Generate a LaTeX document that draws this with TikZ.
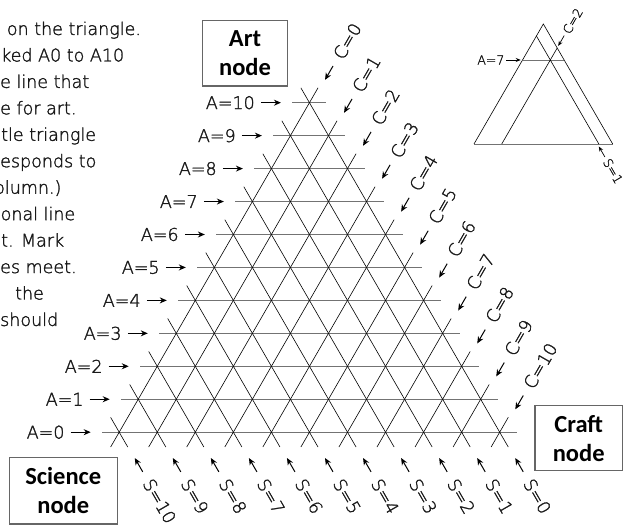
\documentclass[tikz,border=0pt]{standalone}
\usepackage{fontspec}
\IfFontExistsTF{DejaVuSans-ExtraLight.ttf}
  {\setmainfont{DejaVuSans-ExtraLight.ttf}[FakeBold=1.6]}
  {\setmainfont{DejaVu Sans}}
\newfontfamily\boxfont{Carlito}
\usepackage{tikz}
\usetikzlibrary{positioning,arrows.meta,calc}

\tikzset{
  hline/.style={draw=black!55, line width=1.1pt},
  dline/.style={draw=black, line width=0.6pt},
  lab/.style={inner sep=0pt, text=black!90, font=\fontsize{17.5}{21}\selectfont},
  smalllab/.style={inner sep=0pt, text=black!90, font=\fontsize{12.5}{15}\selectfont},
  arr/.style={-{Stealth[length=7pt,width=6pt]}, line width=1pt},
  sarr/.style={-{Stealth[length=5pt,width=4pt]}, line width=0.7pt},
  nodebox/.style={draw=black!60, line width=1.2pt, align=center, inner sep=0pt,
    font=\boxfont\bfseries\fontsize{24.5}{29}\selectfont},
}

\begin{document}
\begin{tikzpicture}[x=1pt,y=1pt]
\useasboundingbox (0,0) rectangle (625,526);

% text cut off at the left edge
\foreach \x/\txt [count=\i from 0] in {6.7/on the triangle., 1/ked A0 to A10, 0/e line that,
  0/e for art., 1/tle triangle, 0/esponds to, -6/olumn.), 0.5/onal line, 1/t. Mark,
  0/es meet., 15/the, 0/should}
  \node[lab, anchor=base west] (p\i) at (\x, 491-26.45*\i) {\txt};

% main grid
\begin{scope}[shift={(119.2,93.8)}, x={(38.05pt,0pt)}, y={(19.025pt,32.95pt)}]
  \foreach \k in {0,...,10}{
    \pgfmathtruncatemacro\m{10-\k}
    \coordinate (a\k l) at (-0.447,\k);
    \coordinate (a\k r) at (\m+0.447,\k);
    \draw[hline] (a\k l) -- (a\k r);
  }
  \foreach \k in {0,...,10}{
    \pgfmathtruncatemacro\m{10-\k}
    \coordinate (c\k b) at (\k,-0.45);
    \coordinate (c\k t) at (\k,\m+0.45);
    \draw[dline] (c\k b) -- (c\k t);
    \coordinate (s\k b) at (\m+0.45,-0.45);
    \coordinate (s\k t) at (-0.45,\m+0.45);
    \draw[dline] (s\k t) -- (s\k b);
  }
\end{scope}

\foreach \k in {0,...,10}{
  \node[lab, anchor=east] (al\k) at ($(a\k l)+(-37.5,0)$) {A=\k};
  \draw[arr, shorten <=6pt, shorten >=11.5pt] (al\k) -- (a\k l);
  \coordinate (cp\k) at ($(c\k t)+(7,8)$);
  \node[lab, rotate=60, anchor=west] (cl\k) at ($(cp\k)+(60:25.5)$) {C=\k};
  \draw[arr, shorten <=9.5pt] (cl\k) -- (cp\k);
  \coordinate (sp\k) at ($(s\k b)+(7,-11)$);
  \node[lab, rotate=-60, anchor=west] (sl\k) at ($(sp\k)+(-60:25.5)$) {S=\k};
  \draw[arr, shorten <=9.5pt] (sl\k) -- (sp\k);
}

% small example triangle
\begin{scope}[shift={(474,382)}, x={(13.87pt,0pt)}, y={(6.935pt,12pt)}]
  \coordinate (tl) at (0,0);
  \coordinate (tr) at (10,0);
  \coordinate (tt) at (0,10);
  \coordinate (t7l) at (0,7);
  \coordinate (t7r) at (3,7);
  \coordinate (tc2b) at (2,0);
  \coordinate (tc2t) at (2,8);
  \coordinate (ts1b) at (9,0);
  \coordinate (ts1t) at (0,9);
  \draw[hline, line width=0.9pt] (tl) -- (tr);
  \draw[hline, line width=0.9pt] (t7l) -- (t7r);
  \draw[dline] (tl) -- (tt) -- (tr);
  \draw[dline] (tc2b) -- (tc2t);
  \draw[dline] (ts1t) -- (ts1b);
\end{scope}

\node[smalllab, anchor=east] (ia) at ($(t7l)+(-18,0)$) {A=7};
\draw[sarr, shorten <=1.5pt, shorten >=1.8pt] (ia) -- (t7l);
\coordinate (ic) at ($(tc2t)+(1,2)$);
\node[smalllab, rotate=60, anchor=west] (icl) at ($(ic)+(60:15)$) {C=2};
\draw[sarr, shorten <=3pt] (icl) -- (ic);
\coordinate (is) at ($(ts1b)+(0,-2.5)$);
\node[smalllab, rotate=-60, anchor=west] (isl) at ($(is)+(-60:15)$) {S=1};
\draw[sarr, shorten <=3pt] (isl) -- (is);

% corner boxes
\node[nodebox, minimum width=84.6pt, minimum height=65.3pt] (art) at (245,472.7) {Art\\node};
\node[nodebox, minimum width=108pt, minimum height=66.3pt] (sci) at (63.3,35.2) {Science\\node};
\node[nodebox, minimum width=87.3pt, minimum height=65pt] (craft) at (578.7,87.8) {Craft\\node};

\end{tikzpicture}
\end{document}
